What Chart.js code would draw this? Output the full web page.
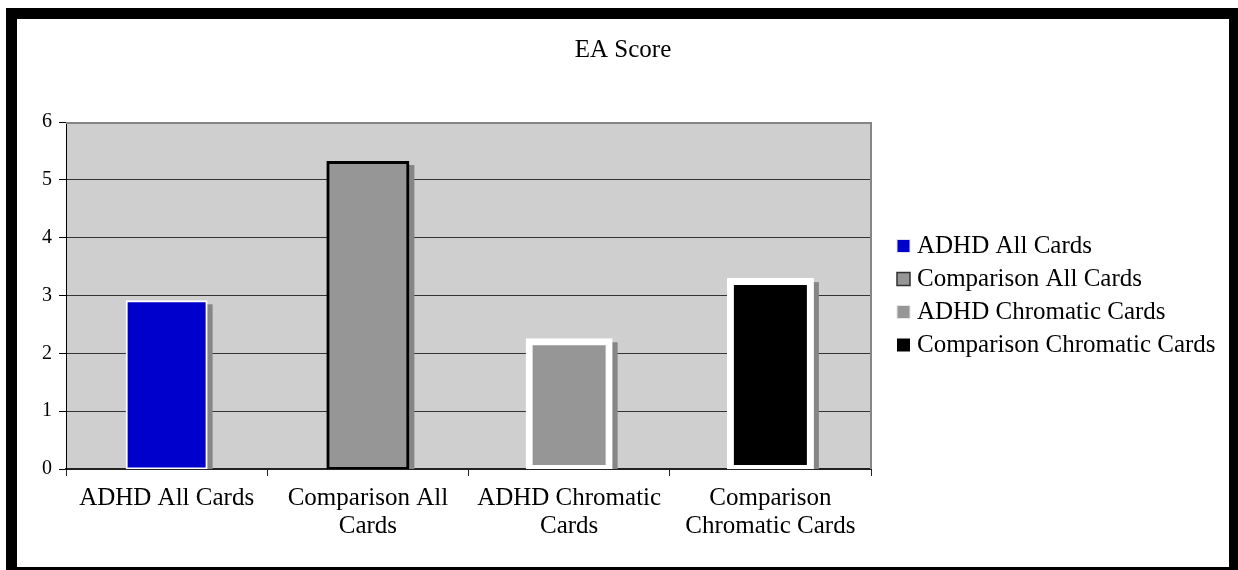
<!DOCTYPE html>
<html>
<head>
<meta charset="utf-8">
<title>EA Score</title>
<script src="https://cdn.jsdelivr.net/npm/chart.js@4/dist/chart.umd.min.js"></script>
<style>
  html, body { margin: 0; padding: 0; background: #fff; overflow: hidden; width: 1238px; height: 570px; }
  #frame {
    position: absolute; left: 6px; top: 8px;
    width: 1212px; height: 548px;
    border: 11px solid #000;
    background: #fff;
  }
  #chart { display: block; }
</style>
</head>
<body>
<div id="frame"><canvas id="chart" width="1212" height="548"></canvas></div>
<script>
const chartTitle = 'EA Score';
// Groups and their mean EA scores
const categories = ['ADHD All Cards', 'Comparison All Cards', 'ADHD Chromatic Cards', 'Comparison Chromatic Cards'];
const eaScores = [2.9, 5.3, 2.2, 3.24];
// Category axis labels, wrapped the way they are printed under the bars
const tickLabels = [['ADHD All Cards'], ['Comparison All', 'Cards'], ['ADHD Chromatic', 'Cards'], ['Comparison', 'Chromatic Cards']];
const yMin = 0, yMax = 6, yStep = 1;

// Bar appearance, one entry per group
const barFill   = ['#0000CC', '#969696', '#969696', '#000000'];
const barEdge   = ['#FFFFFF', '#000000', '#FFFFFF', '#FFFFFF'];
const barEdgeW  = [2, 3, 7, 7];
// Legend key outlines
const keyEdge   = ['#E2E2F4', '#303030', '#E6E6E6', '#000000'];
const keyEdgeW  = [1, 1.5, 1, 0];

const SERIF = "'Liberation Serif', 'Times New Roman', Times, serif";
Chart.defaults.font.family = SERIF;
Chart.defaults.color = '#000';

const datasets = categories.map((name, i) => ({
  label: name,
  data: eaScores.map((v, j) => (j === i ? v : null)),
  backgroundColor: barFill[i],
  borderColor: barEdge[i],
  borderWidth: barEdgeW[i],
  borderSkipped: false,
  inflateAmount: barEdgeW[i] / 2,
  barThickness: 80,
  grouped: false,
  clip: { left: false, right: false, top: false, bottom: 0 }
}));

// Plot-area fill, drop shadows behind the bars and the grey plot frame
const plotDecor = {
  id: 'plotDecor',
  beforeDraw(chart) {
    const { ctx, chartArea: a } = chart;
    ctx.save();
    ctx.fillStyle = '#CFCFCF';
    ctx.fillRect(a.left, a.top, a.right - a.left, a.bottom - a.top);
    ctx.restore();
  },
  beforeDatasetsDraw(chart) {
    const { ctx, chartArea: a } = chart;
    ctx.save();
    ctx.beginPath();
    ctx.rect(a.left, a.top, a.right - a.left, a.bottom - a.top);
    ctx.clip();
    ctx.fillStyle = '#868686';
    chart.data.datasets.forEach((ds, di) => {
      const meta = chart.getDatasetMeta(di);
      const inf = ds.inflateAmount || 0;
      meta.data.forEach((bar, k) => {
        if (ds.data[k] == null) return;
        const p = bar.getProps(['x', 'y', 'base', 'width'], true);
        const left = p.x - p.width / 2 - inf + 5;
        const top = p.y - inf + 4;
        ctx.fillRect(left, top, p.width + 2 * inf, p.base - top + 2);
      });
    });
    ctx.restore();

    ctx.save();
    ctx.fillStyle = '#858585';
    ctx.fillRect(a.left, a.top, a.right - a.left + 1, 2);
    ctx.fillRect(a.right - 1, a.top, 2, a.bottom - a.top);
    ctx.restore();
  }
};

// Title centred across the whole chart, and the key to the right of the plot
const sideText = {
  id: 'sideText',
  afterDraw(chart) {
    const { ctx, chartArea: a, width } = chart;
    ctx.save();
    ctx.font = '25px ' + SERIF;
    ctx.fillStyle = '#000';
    ctx.textBaseline = 'middle';
    ctx.textAlign = 'center';
    ctx.fillText(chartTitle, width / 2, 31);

    const rows = chart.data.datasets;
    const rowGap = 33, box = 13;
    const boxX = a.right + 26, textX = a.right + 46;
    const midY = (a.top + a.bottom) / 2;
    ctx.textAlign = 'left';
    rows.forEach((ds, i) => {
      const cy = midY + (i - (rows.length - 1) / 2) * rowGap;
      ctx.fillStyle = ds.backgroundColor;
      ctx.fillRect(boxX, cy - box / 2, box, box);
      if (keyEdgeW[i] > 0) {
        ctx.strokeStyle = keyEdge[i];
        ctx.lineWidth = keyEdgeW[i];
        ctx.strokeRect(boxX, cy - box / 2, box, box);
      }
      ctx.fillStyle = '#000';
      ctx.fillText(ds.label, textX, cy);
    });
    ctx.restore();
  }
};

new Chart(document.getElementById('chart'), {
  type: 'bar',
  data: { labels: tickLabels, datasets },
  plugins: [plotDecor, sideText],
  options: {
    responsive: false,
    animation: false,
    devicePixelRatio: 1,
    layout: { padding: { left: 0, right: 358, top: 103, bottom: 0 } },
    plugins: {
      tooltip: { enabled: false },
      legend: { display: false },
      title: { display: false }
    },
    scales: {
      x: {
        type: 'category',
        z: 1,
        grid: {
          display: true,
          offset: true,
          drawOnChartArea: false,
          drawTicks: true,
          tickLength: 7,
          tickColor: '#222',
          tickWidth: 1
        },
        border: { display: true, color: '#222', width: 2 },
        ticks: {
          color: '#000',
          padding: 8,
          maxRotation: 0,
          autoSkip: false,
          font: { family: SERIF, size: 25, lineHeight: 1.12 }
        },
        afterFit(scale) { scale.height = 98; }
      },
      y: {
        type: 'linear',
        position: 'left',
        min: yMin,
        max: yMax,
        grid: {
          color: '#333',
          lineWidth: 1,
          drawTicks: true,
          tickLength: 7,
          tickColor: '#000'
        },
        border: { display: true, color: '#000', width: 1 },
        ticks: {
          stepSize: yStep,
          padding: 7,
          color: '#000',
          font: { family: SERIF, size: 20 }
        },
        afterFit(scale) { scale.width = 49; }
      }
    }
  }
});
</script>
</body>
</html>
